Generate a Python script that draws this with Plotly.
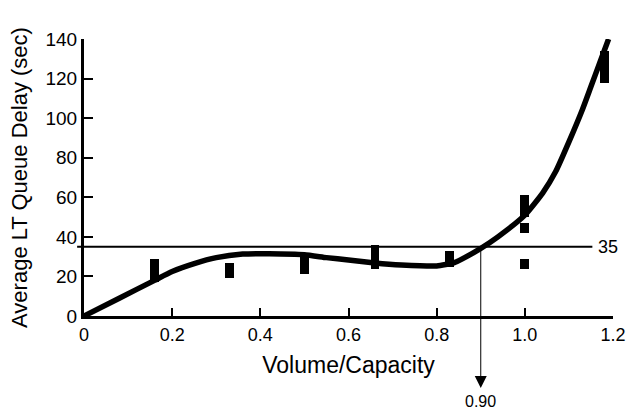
import plotly.graph_objects as go

# Fitted curve (Volume/Capacity vs Average LT queue delay)
curve_x = [0, 0.08, 0.16, 0.2, 0.25, 0.3, 0.36, 0.42, 0.5, 0.55, 0.6, 0.66, 0.72,
           0.8, 0.84, 0.88, 0.92, 0.96, 1.0, 1.04, 1.07, 1.1, 1.13, 1.15, 1.17, 1.19]
curve_y = [0, 9, 18, 22.5, 26.5, 29.5, 31.3, 31.5, 31.0, 29.5, 28.3, 26.8, 25.8,
           25.3, 27, 31.5, 37, 43.5, 51, 62, 73, 88, 104, 116, 128, 140]

# Observed data ranges (low / high)
obs_x = [0.16, 0.33, 0.50, 0.66, 0.83, 1.0, 1.0, 1.0, 1.18]
obs_low = [17, 19, 21, 24, 25, 24, 42, 50, 118]
obs_high = [29, 27, 30, 36, 33, 29, 47, 61, 134]

threshold = 35
crossing_x = 0.90

x_ticks = [0, 0.2, 0.4, 0.6, 0.8, 1.0, 1.2]
x_labels = ["0", "0.2", "0.4", "0.6", "0.8", "1.0", "1.2"]
y_ticks = [0, 20, 40, 60, 80, 100, 120, 140]

FONT = "Liberation Sans, Arial, sans-serif"

fig = go.Figure()
fig.add_trace(go.Bar(
    x=obs_x,
    y=[h - l for h, l in zip(obs_high, obs_low)],
    base=obs_low,
    width=0.02,
    marker=dict(color="black", line=dict(width=0)),
    showlegend=False,
))
fig.add_trace(go.Scatter(
    x=curve_x, y=curve_y, mode="lines",
    line=dict(color="black", width=5.5, shape="spline", smoothing=0.5),
    showlegend=False,
))

# Threshold line
fig.add_shape(type="line", xref="paper", yref="y",
              x0=-0.013, x1=0.961, y0=threshold, y1=threshold,
              line=dict(color="black", width=2))
fig.add_annotation(x=0.99, xref="paper", y=threshold, yref="y",
                   text=str(threshold), showarrow=False, xanchor="center",
                   font=dict(size=18, color="black", family=FONT))

# Arrow down from crossing point
fig.add_annotation(x=crossing_x, xref="x", y=-0.26, yref="paper",
                   ax=0, ay=-139, axref="pixel", ayref="pixel",
                   text="", showarrow=True, arrowhead=2, arrowsize=2.4,
                   arrowwidth=1, arrowcolor="black")
fig.add_annotation(x=crossing_x, xref="x", y=-0.272, yref="paper",
                   text=f"{crossing_x:.2f}", showarrow=False, yanchor="top",
                   font=dict(size=16, color="black", family=FONT))

fig.update_layout(
    width=638, height=413,
    margin=dict(l=84, r=14, t=39, b=97),
    paper_bgcolor="white", plot_bgcolor="white",
    font=dict(family=FONT, color="black", size=18),
    bargap=0,
    xaxis=dict(range=[0, 1.2], tickvals=x_ticks, ticktext=x_labels,
               ticks="inside", ticklen=8, tickwidth=2, tickcolor="black",
               showline=True, linewidth=3, linecolor="black",
               showgrid=False, zeroline=False,
               tickfont=dict(size=18),
               title=dict(text="Volume/Capacity", font=dict(size=23), standoff=14)),
    yaxis=dict(range=[0, 140], tickvals=y_ticks,
               ticks="inside", ticklen=9, tickwidth=2, tickcolor="black",
               showline=True, linewidth=3, linecolor="black",
               showgrid=False, zeroline=False,
               tickfont=dict(size=19),
               title=dict(text="Average LT Queue Delay (sec)", font=dict(size=22), standoff=12)),
)

fig.write_html("out.html")
